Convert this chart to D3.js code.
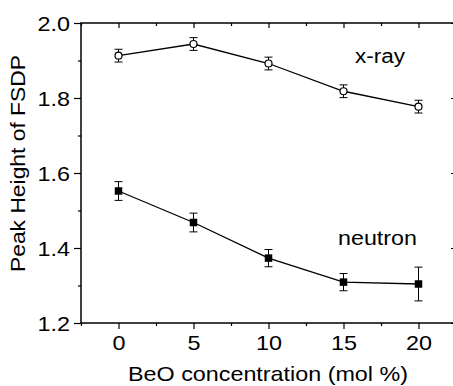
<!DOCTYPE html>
<html>
<head>
<meta charset="utf-8">
<script src="https://cdn.jsdelivr.net/npm/d3@7"></script>
<style>
  body { margin: 0; background: #fff; }
  text { font-family: "Liberation Sans", Arial, sans-serif; fill: #000; }
</style>
</head>
<body>
<div id="chart"></div>
<script>
// data
const concentration = [0, 5, 10, 15, 20];
const xray_values = [1.913, 1.944, 1.892, 1.818, 1.777];
const xray_errors = [0.017, 0.017, 0.017, 0.017, 0.017];
const neutron_values = [1.552, 1.468, 1.373, 1.309, 1.304];
const neutron_errors = [0.025, 0.025, 0.023, 0.023, 0.045];
const x_ticks = [0, 5, 10, 15, 20];
const y_ticks = [1.2, 1.4, 1.6, 1.8, 2.0];

const width = 453, height = 386;
const margin = { left: 81, right: -3, top: 23, bottom: 63 };
const stretch = 1.17; // the original text is a bit wider than it is tall

const svg = d3.select('#chart').append('svg')
  .attr('width', width)
  .attr('height', height);

const x_scale = d3.scaleLinear()
  .domain([-2.5, 22.5])
  .range([margin.left, width - margin.right]);

const y_scale = d3.scaleLinear()
  .domain([1.2, 2.0])
  .range([height - margin.bottom, margin.top]);

const x0 = x_scale.range()[0], x1 = x_scale.range()[1];
const y0 = y_scale.range()[0], y1 = y_scale.range()[1];

const minor_x = d3.range(-2.5, 22.6, 2.5).filter(v => !x_ticks.includes(v));
const minor_y = d3.range(1.3, 2.0, 0.2).map(v => +v.toFixed(1));

// bottom axis
svg.append('g')
  .attr('transform', `translate(0,${y0})`)
  .call(d3.axisBottom(x_scale).tickValues(x_ticks).tickSize(6).tickPadding(7).tickFormat(d3.format('d')))
  .call(g => g.select('.domain').remove())
  .call(g => g.selectAll('text').attr('font-size', 20).attr('transform', `scale(${stretch},1)`));
svg.append('g')
  .attr('transform', `translate(0,${y0})`)
  .call(d3.axisBottom(x_scale).tickValues(minor_x).tickSize(3).tickFormat(() => ''))
  .call(g => g.select('.domain').remove());

// top axis (mirror)
svg.append('g')
  .attr('transform', `translate(0,${y1})`)
  .call(d3.axisBottom(x_scale).tickValues(x_ticks).tickSize(5).tickFormat(() => ''))
  .call(g => g.select('.domain').remove());
svg.append('g')
  .attr('transform', `translate(0,${y1})`)
  .call(d3.axisBottom(x_scale).tickValues(minor_x).tickSize(3).tickFormat(() => ''))
  .call(g => g.select('.domain').remove());

// left axis
svg.append('g')
  .attr('transform', `translate(${x0},0)`)
  .call(d3.axisLeft(y_scale).tickValues(y_ticks).tickSize(7).tickFormat(d3.format('.1f')))
  .call(g => g.select('.domain').remove())
  .call(g => g.selectAll('text')
    .attr('font-size', 20)
    .attr('dy', '0.36em')
    .attr('x', -11 / stretch)
    .attr('transform', `scale(${stretch},1)`));
svg.append('g')
  .attr('transform', `translate(${x0},0)`)
  .call(d3.axisLeft(y_scale).tickValues(minor_y).tickSize(3).tickFormat(() => ''))
  .call(g => g.select('.domain').remove());

// right axis (mirror)
svg.append('g')
  .attr('transform', `translate(${x1},0)`)
  .call(d3.axisLeft(y_scale).tickValues(y_ticks).tickSize(5).tickFormat(() => ''))
  .call(g => g.select('.domain').remove());
svg.append('g')
  .attr('transform', `translate(${x1},0)`)
  .call(d3.axisLeft(y_scale).tickValues(minor_y).tickSize(3).tickFormat(() => ''))
  .call(g => g.select('.domain').remove());

svg.selectAll('.tick line').attr('stroke', '#000').attr('stroke-width', 1.2);

// frame
svg.append('rect')
  .attr('x', x0).attr('y', y1)
  .attr('width', x1 - x0).attr('height', y0 - y1)
  .attr('fill', 'none').attr('stroke', '#000').attr('stroke-width', 1.5);

function drawSeries(values, errors, marker) {
  const pts = concentration.map((c, i) => ({ x: c, y: values[i], e: errors[i] }));
  const line = d3.line().x(d => x_scale(d.x)).y(d => y_scale(d.y));
  svg.append('path')
    .datum(pts)
    .attr('d', line)
    .attr('fill', 'none')
    .attr('stroke', '#000')
    .attr('stroke-width', 1.3);

  const g = svg.append('g');
  const cap = 4;
  pts.forEach(d => {
    const cx = x_scale(d.x);
    const ya = y_scale(d.y + d.e), yb = y_scale(d.y - d.e);
    g.append('line').attr('x1', cx).attr('x2', cx).attr('y1', ya).attr('y2', yb)
      .attr('stroke', '#000').attr('stroke-width', 1);
    g.append('line').attr('x1', cx - cap).attr('x2', cx + cap).attr('y1', ya).attr('y2', ya)
      .attr('stroke', '#000').attr('stroke-width', 1);
    g.append('line').attr('x1', cx - cap).attr('x2', cx + cap).attr('y1', yb).attr('y2', yb)
      .attr('stroke', '#000').attr('stroke-width', 1);
    if (marker === 'circle') {
      g.append('circle').attr('cx', cx).attr('cy', y_scale(d.y)).attr('r', 3.5)
        .attr('fill', '#fff').attr('stroke', '#000').attr('stroke-width', 1.2);
    } else {
      g.append('rect').attr('x', cx - 3.75).attr('y', y_scale(d.y) - 3.75)
        .attr('width', 7.5).attr('height', 7.5).attr('fill', '#000');
    }
  });
}

drawSeries(xray_values, xray_errors, 'circle');
drawSeries(neutron_values, neutron_errors, 'square');

// labels
svg.append('text')
  .attr('x', 380).attr('y', 63)
  .attr('text-anchor', 'middle').attr('font-size', 20)
  .attr('textLength', 50).attr('lengthAdjust', 'spacingAndGlyphs')
  .text('x-ray');
svg.append('text')
  .attr('x', 377.5).attr('y', 245)
  .attr('text-anchor', 'middle').attr('font-size', 20)
  .attr('textLength', 79).attr('lengthAdjust', 'spacingAndGlyphs')
  .text('neutron');

svg.append('text')
  .attr('x', 268).attr('y', 381)
  .attr('text-anchor', 'middle').attr('font-size', 21)
  .attr('textLength', 280).attr('lengthAdjust', 'spacingAndGlyphs')
  .text('BeO concentration (mol %)');
svg.append('text')
  .attr('transform', `translate(25,163.5) rotate(-90)`)
  .attr('text-anchor', 'middle').attr('font-size', 21)
  .attr('textLength', 217).attr('lengthAdjust', 'spacingAndGlyphs')
  .text('Peak Height of FSDP');
</script>
</body>
</html>
